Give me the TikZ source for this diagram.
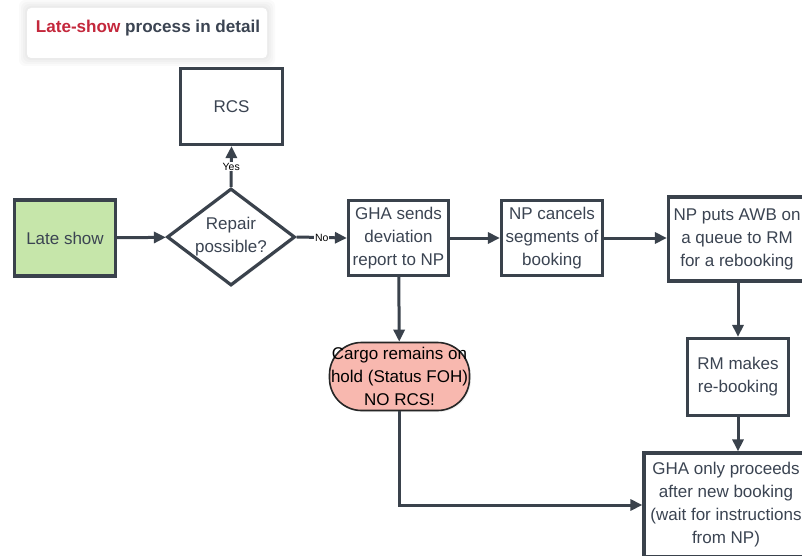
\documentclass[tikz,border=0pt]{standalone}
\usepackage{fontspec}
\setmainfont{Liberation Sans}
\usetikzlibrary{arrows.meta,shapes.geometric,shadows}
\definecolor{ink}{HTML}{3A424C}
\definecolor{txt}{HTML}{3B4452}
\definecolor{leaf}{HTML}{C6E6AA}
\definecolor{salmon}{HTML}{F8B8AF}
\definecolor{titlered}{HTML}{C4283C}
\tikzset{
  base/.style={draw=ink, line width=3.2pt, fill=white, align=center, text=txt,
    inner sep=0pt, font=\fontsize{17}{23}\selectfont,
    drop shadow={opacity=0.12, shadow xshift=1.5pt, shadow yshift=-1.5pt}},
  procbox/.style={base, rectangle},
  decision/.style={base, diamond},
  holdbox/.style={base, rectangle, rounded corners=32pt, fill=salmon, text=black,
    draw=black!85, line width=1.6pt},
  flow/.style={draw=ink, line width=3pt, -{Triangle[length=12pt,width=11pt]}},
  edgelabel/.style={fill=white, inner sep=1pt, text=black, font=\fontsize{10.5}{12}\selectfont},
  plaintext/.style={align=center, text=txt, font=\fontsize{17}{23}\selectfont},
}
\begin{document}
\begin{tikzpicture}[x=1pt,y=-1pt]
\useasboundingbox (0,0) rectangle (802,556);

% title card with a soft halo
\foreach \g in {7,5,3,1}
  \fill[black, opacity=0.02, rounded corners=6pt] (26-\g,7-\g) rectangle (268+\g,59+\g);
\fill[white, rounded corners=4pt] (27,8) rectangle (267,58);
\node[font=\bfseries\fontsize{17.1}{20}\selectfont, text=txt] (title) at (148,28)
  {\textcolor{titlered}{Late-show} process in detail};

% process steps
\node[procbox, fill=leaf, minimum width=101pt, minimum height=76pt] (late) at (65,238) {Late show};
\node[procbox, minimum width=102pt, minimum height=76pt] (rcs) at (231.5,106.5) {RCS};
\node[decision, minimum width=128pt, minimum height=97pt] (repair) at (231,237) {};
\node[plaintext] at (repair) {Repair\\possible?};
\node[procbox, minimum width=100pt, minimum height=75pt] (gha) at (398.5,238) {GHA sends\\deviation\\report to NP};
\node[procbox, minimum width=101pt, minimum height=75pt] (cancel) at (552,238) {NP cancels\\segments of\\booking};
\node[procbox, minimum width=137pt, minimum height=84pt] (queue) at (737,239) {NP puts AWB on\\a queue to RM\\for a rebooking};
\node[procbox, minimum width=101pt, minimum height=77pt] (rebook) at (738,377) {RM makes\\re-booking};
\node[procbox, minimum width=164pt, minimum height=104pt] (proceed) at (726,505)
  {GHA only proceeds\\after new booking\\(wait for instructions\\from NP)};
\node[holdbox, minimum width=140pt, minimum height=68pt] (hold) at (399.5,376.5)
  {Cargo remains on\\hold (Status FOH)\\NO RCS!};

% connectors
\draw[flow] (late) -- (repair);
\draw[flow] (repair.north) -- node[edgelabel] {Yes} (rcs.south);
\draw[flow] (repair.east) -- node[edgelabel] {No} (gha.west);
\draw[flow] (gha) -- (cancel);
\draw[flow] (cancel) -- (cancel -| queue.west);
\draw[flow] (queue.south -| rebook) -- (rebook.north);
\draw[flow] (rebook) -- (rebook |- proceed.north);
\draw[flow] (gha) -- (hold);
\draw[flow] (hold.south) |- (proceed.west);
\end{tikzpicture}
\end{document}
